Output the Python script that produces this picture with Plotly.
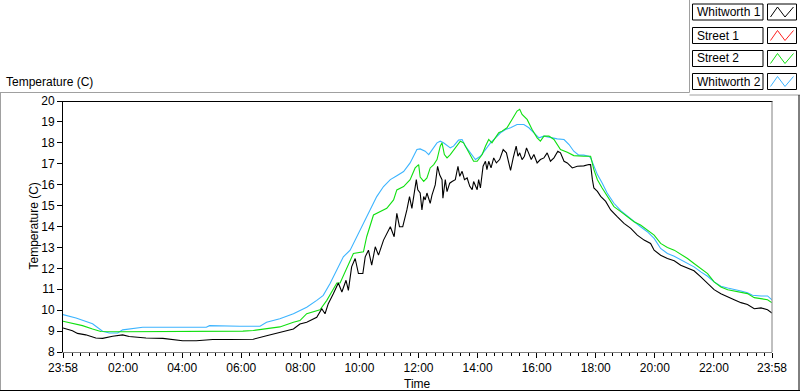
import pandas as pd
import plotly.graph_objects as go

# ---------------- data (hours after the 23:58 start, temperature in C) ----------------
series_names = ["Whitworth 1", "Street 1", "Street 2", "Whitworth 2"]
series_colors = ["#000000", "#ff2020", "#10e010", "#3cb4ff"]

whitworth1_hours = [0, 0.32, 0.49, 0.77, 1.11, 1.34, 1.68, 2.02, 2.24, 2.81, 3.38, 4.05, 4.51, 5.07, 5.64,
                    5.99, 6.44, 6.89, 7.34, 7.80, 8.02, 8.25, 8.59, 8.76, 8.87, 8.98, 9.15, 9.32, 9.44, 9.58,
                    9.66, 9.77, 9.89, 10.00, 10.15, 10.23, 10.34, 10.45, 10.57, 10.68, 10.85, 10.96, 11.08,
                    11.21, 11.30, 11.39, 11.50, 11.64, 11.73, 11.81, 11.89, 11.96, 12.01, 12.09, 12.15, 12.21,
                    12.26, 12.32, 12.43, 12.49, 12.60, 12.68, 12.75, 12.83, 12.86, 12.94, 13.00, 13.09, 13.17,
                    13.28, 13.37, 13.43, 13.51, 13.59, 13.68, 13.77, 13.85, 13.90, 14.02, 14.07, 14.13, 14.22,
                    14.30, 14.35, 14.41, 14.49, 14.58, 14.67, 14.78, 14.90, 15.01, 15.09, 15.15, 15.24, 15.34,
                    15.40, 15.46, 15.54, 15.62, 15.69, 15.77, 15.85, 15.94, 16.05, 16.16, 16.28, 16.39, 16.50,
                    16.62, 16.75, 16.84, 16.96, 17.07, 17.24, 17.41, 17.63, 17.80, 17.86, 17.92, 17.97, 18.09,
                    18.20, 18.37, 18.54, 18.76, 18.99, 19.22, 19.44, 19.67, 19.89, 20.01, 20.23, 20.46, 20.69,
                    20.91, 21.14, 21.36, 21.59, 21.82, 22.04, 22.27, 22.50, 22.72, 22.95, 23.17, 23.40, 23.63,
                    23.85, 24.0]
whitworth1_temp = [9.15, 9.02, 8.89, 8.82, 8.67, 8.65, 8.75, 8.82, 8.74, 8.67, 8.65, 8.54, 8.54, 8.6, 8.6,
                   8.6, 8.61, 8.78, 8.94, 9.1, 9.34, 9.42, 9.66, 10.07, 9.83, 10.31, 10.79, 11.3, 10.87, 11.43,
                   10.95, 12.07, 12.47, 11.75, 11.75, 12.55, 12.87, 12.15, 13.03, 12.63, 13.35, 13.67, 13.99,
                   13.51, 14.63, 13.99, 13.99, 14.79, 15.43, 14.87, 15.6, 16.24, 15.75, 15.6, 14.79, 15.43,
                   15.27, 15.6, 15.11, 15.5, 15.99, 16.88, 16.47, 16.24, 15.35, 16.24, 15.67, 16.07, 16.15,
                   16.24, 16.88, 16.4, 16.64, 16.24, 16.32, 15.92, 15.76, 16.15, 15.76, 16.24, 15.84, 16.88,
                   17.12, 16.72, 17.12, 16.8, 17.28, 17.04, 17.2, 17.68, 17.52, 17.04, 16.68, 17.28, 17.84,
                   17.36, 17.52, 17.2, 17.36, 17.76, 17.44, 17.2, 17.44, 17.04, 17.2, 17.28, 17.52, 17.12,
                   17.28, 17.6, 17.52, 17.12, 17.04, 16.8, 16.88, 16.9, 16.96, 16.96, 16.24, 15.84, 15.68,
                   15.44, 15.2, 14.79, 14.47, 14.15, 13.91, 13.59, 13.35, 13.19, 12.87, 12.63, 12.47, 12.36,
                   12.15, 12.02, 11.88, 11.59, 11.27, 10.98, 10.79, 10.63, 10.5, 10.36, 10.27, 10.07, 10.11,
                   10.02, 9.86]

street1_hours = []
street1_temp = []

street2_hours = [0, 0.32, 0.66, 1.00, 1.28, 2.0, 4.0, 6.09, 6.44, 6.89, 7.34, 7.80, 8.02, 8.25, 8.70, 8.93,
                 9.15, 9.27, 9.38, 9.61, 9.83, 10.17, 10.28, 10.51, 10.74, 10.96, 11.19, 11.30, 11.53, 11.75,
                 11.92, 12.04, 12.09, 12.21, 12.32, 12.43, 12.55, 12.66, 12.77, 12.83, 12.91, 13.00, 13.11,
                 13.19, 13.34, 13.45, 13.56, 13.68, 13.79, 13.90, 14.02, 14.19, 14.30, 14.41, 14.52, 14.64,
                 14.75, 14.86, 15.03, 15.20, 15.37, 15.46, 15.54, 15.71, 15.88, 16.05, 16.16, 16.28, 16.45,
                 16.62, 16.84, 17.07, 17.29, 17.63, 17.80, 17.86, 17.97, 18.09, 18.25, 18.42, 18.65, 18.88,
                 19.10, 19.33, 19.55, 19.78, 20.01, 20.23, 20.46, 20.69, 20.91, 21.14, 21.36, 21.59, 21.82,
                 22.04, 22.27, 22.50, 22.72, 22.95, 23.17, 23.40, 23.63, 23.85, 23.99]
street2_temp = [9.47, 9.38, 9.26, 9.1, 8.98, 8.97, 8.97, 9.0, 9.03, 9.1, 9.2, 9.42, 9.5, 9.83, 10.02, 10.47,
                11.03, 11.3, 11.3, 11.99, 12.71, 12.79, 13.51, 14.55, 14.71, 14.87, 15.27, 15.75, 15.91, 16.24,
                16.8, 16.96, 16.36, 16.16, 16.32, 16.8, 16.96, 17.2, 17.84, 18.0, 17.44, 17.28, 17.44,
                17.6, 17.84, 18.08, 18.0, 17.68, 17.36, 17.12, 17.12, 17.44, 17.84, 18.16, 18.0, 18.24,
                18.48, 18.56, 18.72, 19.12, 19.52, 19.6, 19.36, 19.12, 18.64, 18.24, 18.08, 18.32, 18.32,
                18.16, 17.68, 17.55, 17.39, 17.36, 17.36, 17.36, 16.72, 16.24, 15.84, 15.44, 14.95, 14.71,
                14.47, 14.23, 14.07, 13.83, 13.59, 13.19, 13.0, 12.87, 12.68, 12.47, 12.23, 11.99, 11.75,
                11.35, 11.11, 10.98, 10.92, 10.87, 10.79, 10.6, 10.55, 10.5, 10.36]

whitworth2_hours = [0, 0.44, 1.00, 1.34, 1.57, 1.85, 2.02, 2.36, 2.70, 4.85, 4.96, 5.99, 6.67, 6.89, 7.34,
                    7.80, 8.25, 8.59, 8.81, 9.04, 9.27, 9.49, 9.72, 9.94, 10.17, 10.40, 10.62, 10.85, 11.08,
                    11.30, 11.53, 11.75, 11.98, 12.09, 12.26, 12.38, 12.49, 12.66, 12.77, 12.88, 13.11, 13.22,
                    13.39, 13.51, 13.62, 13.79, 13.96, 14.13, 14.30, 14.47, 14.64, 14.81, 14.98, 15.15, 15.37,
                    15.60, 15.77, 15.94, 16.11, 16.28, 16.50, 16.73, 16.96, 17.13, 17.29, 17.46, 17.63, 17.80,
                    17.86, 17.97, 18.09, 18.25, 18.42, 18.65, 18.88, 19.10, 19.33, 19.55, 19.78, 20.01, 20.23,
                    20.46, 20.69, 20.91, 21.14, 21.36, 21.59, 21.82, 22.04, 22.27, 22.50, 22.72, 22.95, 23.17,
                    23.34, 23.63, 23.85, 23.99]
whitworth2_temp = [9.79, 9.63, 9.35, 8.99, 8.91, 8.91, 9.06, 9.13, 9.18, 9.18, 9.26, 9.23, 9.23, 9.42, 9.59,
                   9.83, 10.14, 10.47, 10.71, 11.27, 11.91, 12.55, 12.87, 13.51, 14.15, 14.79, 15.43, 15.91, 16.24,
                   16.43, 16.63, 17.04, 17.68, 17.71, 17.6, 17.44, 17.68, 18.0, 18.08, 18.0, 17.76, 17.84,
                   18.13, 18.16, 17.84, 17.52, 17.2, 17.36, 17.68, 18.0, 18.24, 18.48, 18.64, 18.72, 18.88,
                   18.88, 18.72, 18.48, 18.24, 18.32, 18.24, 18.19, 18.16, 17.92, 17.6, 17.41, 17.41, 17.36,
                   17.28, 16.88, 16.48, 16.08, 15.6, 15.11, 14.76, 14.5, 14.23, 13.99, 13.75, 13.43, 12.95,
                   12.71, 12.58, 12.42, 12.26, 12.07, 11.83, 11.62, 11.35, 11.14, 11.06, 11.0, 10.92, 10.83,
                   10.71, 10.68, 10.68, 10.5]

start_time = "2000-01-01 23:58"
tick_times = ["2000-01-01 23:58", "2000-01-02 02:00", "2000-01-02 04:00", "2000-01-02 06:00",
              "2000-01-02 08:00", "2000-01-02 10:00", "2000-01-02 12:00", "2000-01-02 14:00",
              "2000-01-02 16:00", "2000-01-02 18:00", "2000-01-02 20:00", "2000-01-02 22:00",
              "2000-01-02 23:58"]
tick_labels = ["23:58", "02:00", "04:00", "06:00", "08:00", "10:00", "12:00", "14:00",
               "16:00", "18:00", "20:00", "22:00", "23:58"]
y_ticks = list(range(8, 21))

# ---------------- figure ----------------
FONT = "Liberation Sans"
W, H = 800, 392
L, R, T, B = 63, 28, 101, 40
PW, PH = W - L - R, H - T - B


def fx(p):
    return (p - L) / PW


def fy(p):
    return (H - B - p) / PH


t0 = pd.Timestamp(start_time)


def to_time(hours):
    return [t0 + pd.to_timedelta(h, unit="h") for h in hours]


all_hours = [whitworth1_hours, street1_hours, street2_hours, whitworth2_hours]
all_temps = [whitworth1_temp, street1_temp, street2_temp, whitworth2_temp]

fig = go.Figure()
# draw order: Whitworth 2 and Street 2 underneath, Whitworth 1 on top
for idx in [3, 1, 2, 0]:
    fig.add_trace(go.Scatter(
        x=to_time(all_hours[idx]), y=all_temps[idx], mode="lines", name=series_names[idx],
        line=dict(color=series_colors[idx], width=1.1), showlegend=False, hoverinfo="skip"))

shapes = []


def line(x0, y0, x1, y1, color, w=1):
    shapes.append(dict(type="line", xref="paper", yref="paper", x0=fx(x0), y0=fy(y0), x1=fx(x1), y1=fy(y1),
                       line=dict(color=color, width=w), layer="above"))


# outer LabVIEW-like frame
line(0, 92.5, 689.5, 92.5, "#a0a0a0")
line(689.5, 0, 689.5, 92.5, "#a0a0a0")
line(689.5, 95, 800, 95, "#a0a0a0")
line(0.5, 92.5, 0.5, 391, "#a0a0a0")
line(0, 390.5, 800, 390.5, "#000000")
line(799, 95, 799, 391, "#000000")
# plot area top and right border
line(63, 101.5, 772.5, 101.5, "#000000")
line(772, 101.5, 772, 352, "#808080")

annotations = []
label_font = dict(family=FONT, size=12, color="#000000")

annotations.append(dict(text="Temperature (C)", xref="paper", yref="paper", x=fx(4), y=fy(82),
                        xanchor="left", yanchor="middle", showarrow=False, font=label_font))
annotations.append(dict(text="Temperature (C)", xref="paper", yref="paper", x=fx(33), y=fy(226.5),
                        xanchor="center", yanchor="middle", textangle=-90, showarrow=False, font=label_font))
annotations.append(dict(text="Time", xref="paper", yref="paper", x=fx(417.5), y=fy(384),
                        xanchor="center", yanchor="middle", showarrow=False, font=label_font))

# custom legend (label box + swatch box with zigzag)
row_tops = [4, 27.5, 50.5, 73.5]
row_h = 16
for name, color, top in zip(series_names, series_colors, row_tops):
    bot = top + row_h
    shapes.append(dict(type="rect", xref="paper", yref="paper", x0=fx(692.5), x1=fx(763), y0=fy(bot), y1=fy(top),
                       line=dict(color="#000000", width=1), fillcolor="white", layer="above"))
    shapes.append(dict(type="rect", xref="paper", yref="paper", x0=fx(767.5), x1=fx(796.5), y0=fy(bot), y1=fy(top),
                       line=dict(color="#000000", width=1), fillcolor="white", layer="above"))
    pts = [(770.5, bot - 3), (777.5, top + 3), (785, bot - 3), (793.5, top + 3)]
    path = "M " + " L ".join(f"{fx(a):.5f},{fy(b):.5f}" for a, b in pts)
    shapes.append(dict(type="path", xref="paper", yref="paper", path=path,
                       line=dict(color=color, width=1), layer="above"))
    annotations.append(dict(text=name, xref="paper", yref="paper", x=fx(695), y=fy(top + row_h / 2),
                            xanchor="left", yanchor="middle", showarrow=False, font=label_font))

fig.update_layout(
    width=W, height=H,
    margin=dict(l=L, r=R, t=T, b=B, pad=0),
    paper_bgcolor="white", plot_bgcolor="white",
    font=dict(family=FONT, size=12, color="#000000"),
    shapes=shapes, annotations=annotations,
    xaxis=dict(
        type="date",
        range=[pd.Timestamp(tick_times[0]), pd.Timestamp(tick_times[-1])],
        tickmode="array", tickvals=[pd.Timestamp(t) for t in tick_times], ticktext=tick_labels,
        ticks="outside", ticklen=5, tickcolor="#000000", tickwidth=1,
        showline=True, linecolor="#808080", linewidth=1,
        showgrid=False, zeroline=False,
        tickfont=dict(family=FONT, size=12, color="#000000"),
        minor=dict(ticks="outside", ticklen=3, tickcolor="#000000", tickwidth=1,
                   tick0="2000-01-02 02:00", dtick=2 * 3600 * 1000 / 7, showgrid=False),
        fixedrange=True,
    ),
    yaxis=dict(
        range=[8, 20], tickmode="array", tickvals=y_ticks, ticktext=[str(v) for v in y_ticks],
        ticks="outside", ticklen=5, tickcolor="#000000", tickwidth=1,
        showline=True, linecolor="#000000", linewidth=1,
        showgrid=False, zeroline=False,
        tickfont=dict(family=FONT, size=12, color="#000000"),
        fixedrange=True,
    ),
)

fig.write_html(
    "out.html",
    config={"displayModeBar": False},
    post_script="document.body.style.margin='0';document.body.style.overflow='hidden';",
)
